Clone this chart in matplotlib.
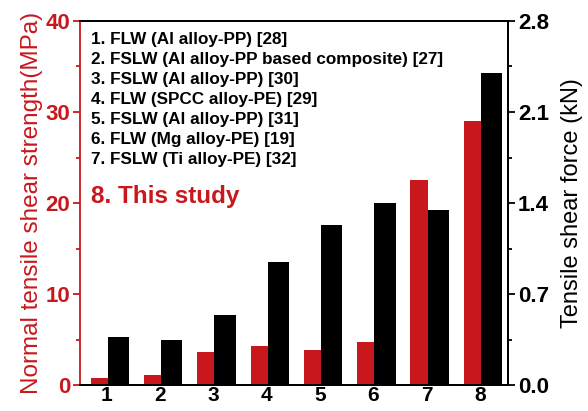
import numpy as np
import matplotlib
matplotlib.use('Agg')
import matplotlib.pyplot as plt
from matplotlib.ticker import MultipleLocator

plt.rcParams['font.family'] = ['Liberation Sans', 'DejaVu Sans']

RED = '#c8181e'

# joint numbers and the two measured quantities
joints = [1, 2, 3, 4, 5, 6, 7, 8]
strength_mpa = [0.8, 1.1, 3.6, 4.3, 3.9, 4.7, 22.5, 29.0]
force_kn = [0.37, 0.35, 0.54, 0.95, 1.23, 1.40, 1.35, 2.40]
references = [
    '1. FLW (Al alloy-PP) [28]',
    '2. FSLW (Al alloy-PP based composite) [27]',
    '3. FSLW (Al alloy-PP) [30]',
    '4. FLW (SPCC alloy-PE) [29]',
    '5. FSLW (Al alloy-PP) [31]',
    '6. FLW (Mg alloy-PE) [19]',
    '7. FSLW (Ti alloy-PE) [32]',
]

fig = plt.figure(figsize=(5.88, 4.11), dpi=100)
ax = fig.add_axes([0.136, 0.063, 0.728, 0.886])
ax2 = ax.twinx()

x = np.array(joints)
ax.bar(x - 0.30, strength_mpa, width=0.32, align='edge', color=RED, zorder=2)
ax2.bar(x + 0.02, force_kn, width=0.40, align='edge', color='black', zorder=2)

ax.set_xlim(0.5, 8.53)
ax.set_ylim(0, 40)
ax2.set_ylim(0, 2.8)

ax.set_xticks(joints)
ax.tick_params(axis='x', length=0, pad=1, labelsize=15)
for t in ax.get_xticklabels():
    t.set_fontweight('bold')

# left axis in red
ax.yaxis.set_major_locator(MultipleLocator(10))
ax.yaxis.set_minor_locator(MultipleLocator(5))
ax.tick_params(axis='y', which='major', length=5, width=1.3, colors=RED, labelsize=16, pad=2)
ax.tick_params(axis='y', which='minor', length=3, width=1.3, colors=RED)
for t in ax.get_yticklabels():
    t.set_fontweight('bold')
ax.spines['left'].set_color(RED)
ax.spines['left'].set_linewidth(1.3)
ax.set_ylabel('Normal tensile shear strength(MPa)', color=RED, fontsize=17.5, labelpad=2)

# right axis in black
ax2.yaxis.set_major_locator(MultipleLocator(0.7))
ax2.yaxis.set_minor_locator(MultipleLocator(0.35))
ax2.tick_params(axis='y', which='major', length=5, width=1.3, labelsize=16, pad=2)
ax2.tick_params(axis='y', which='minor', length=3, width=1.3)
ax2.set_yticklabels([f'{v:.1f}' for v in ax2.get_yticks()])
for t in ax2.get_yticklabels():
    t.set_fontweight('bold')
ax2.set_ylabel('Tensile shear force (kN)', fontsize=17, labelpad=9)

for side in ['top', 'bottom', 'right']:
    ax2.spines[side].set_linewidth(1.3)
    ax.spines[side].set_linewidth(1.3)
ax2.spines['left'].set_visible(False)

# reference list in the upper left
y0 = 0.95
for i, line in enumerate(references):
    ax.text(0.026, y0 - i * 0.055, line, transform=ax.transAxes, fontsize=12.3,
            fontweight='bold', va='center', ha='left')
ax.text(0.026, y0 - 7 * 0.055 - 0.048, '8. This study', transform=ax.transAxes,
        fontsize=17.5, fontweight='bold', color=RED, va='center', ha='left')

fig.savefig('out.png', dpi=100)
